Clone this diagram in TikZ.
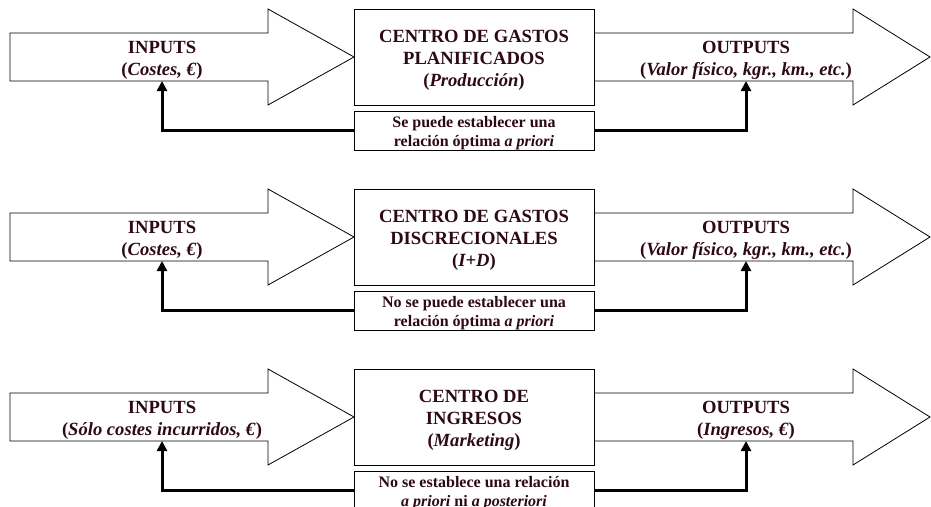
\documentclass[tikz,border=0pt]{standalone}
\usepackage{fontspec}
\setmainfont{Liberation Serif}
\usetikzlibrary{arrows.meta}
\definecolor{tinta}{RGB}{45,8,24}

\tikzset{
  flecha/.style={draw, line width=0.8pt, fill=white},
  caja/.style={draw, line width=1pt, fill=white, minimum width=240pt, inner sep=0pt},
  rotulo/.style={inner sep=0pt, align=center, text=tinta, font=\fontsize{18.6}{22.3}\selectfont\bfseries},
  nota/.style={inner sep=0pt, align=center, text=tinta, font=\fontsize{16}{19.2}\selectfont\bfseries},
  retorno/.style={line width=3pt, -{Triangle[width=10pt,length=10pt]}}
}

\begin{document}
\begin{tikzpicture}[x=1pt, y=-1pt]
\useasboundingbox (0,0) rectangle (931,506);
\clip (0,0) rectangle (931,506);

% fila 1
\draw[flecha] (10,33) -- (268,33) -- (268,9) -- (354,57) -- (268,105) -- (268,81) -- (10,81) -- cycle;
\draw[flecha] (594,33) -- (853,33) -- (853,9) -- (930,57) -- (853,105) -- (853,81) -- (594,81);
\node[caja, minimum height=96pt] (centro1) at (474,57) {};
\node[caja, minimum height=39pt] (relacion1) at (474,130.5) {};
\node[rotulo] (textoC1) at (474,60.5) {CENTRO DE GASTOS\\PLANIFICADOS\\(\textit{Producción})};
\node[nota] (textoR1) at (474,133) {Se puede establecer una\\relación óptima \textit{a priori}};
\node[rotulo] (entrada1) at (162,60) {INPUTS\\(\textit{Costes, €})};
\node[rotulo] (salida1) at (746,60) {OUTPUTS\\(\textit{Valor físico, kgr., km., etc.})};
\coordinate (pieE1) at (162,81);
\coordinate (pieS1) at (746,81);
\draw[retorno] (relacion1.west) -| (pieE1);
\draw[retorno] (relacion1.east) -| (pieS1);

% fila 2
\draw[flecha] (10,213) -- (268,213) -- (268,189) -- (354,237) -- (268,285) -- (268,261) -- (10,261) -- cycle;
\draw[flecha] (594,213) -- (853,213) -- (853,189) -- (930,237) -- (853,285) -- (853,261) -- (594,261);
\node[caja, minimum height=96pt] (centro2) at (474,237) {};
\node[caja, minimum height=39pt] (relacion2) at (474,310.5) {};
\node[rotulo] (textoC2) at (474,240.5) {CENTRO DE GASTOS\\DISCRECIONALES\\(\textit{I+D})};
\node[nota] (textoR2) at (474,313) {No se puede establecer una\\relación óptima \textit{a priori}};
\node[rotulo] (entrada2) at (162,240) {INPUTS\\(\textit{Costes, €})};
\node[rotulo] (salida2) at (746,240) {OUTPUTS\\(\textit{Valor físico, kgr., km., etc.})};
\coordinate (pieE2) at (162,261);
\coordinate (pieS2) at (746,261);
\draw[retorno] (relacion2.west) -| (pieE2);
\draw[retorno] (relacion2.east) -| (pieS2);

% fila 3
\draw[flecha] (10,393) -- (268,393) -- (268,369) -- (354,417) -- (268,465) -- (268,441) -- (10,441) -- cycle;
\draw[flecha] (594,393) -- (853,393) -- (853,369) -- (930,417) -- (853,465) -- (853,441) -- (594,441);
\node[caja, minimum height=96pt] (centro3) at (474,417) {};
\node[caja, minimum height=39pt] (relacion3) at (474,490.5) {};
\node[rotulo] (textoC3) at (474,420.5) {CENTRO DE\\INGRESOS\\(\textit{Marketing})};
\node[nota] (textoR3) at (474,493) {No se establece una relación\\\textit{a priori} ni \textit{a posteriori}};
\node[rotulo] (entrada3) at (162,420) {INPUTS\\(\textit{Sólo costes incurridos, €})};
\node[rotulo] (salida3) at (746,420) {OUTPUTS\\(\textit{Ingresos, €})};
\coordinate (pieE3) at (162,441);
\coordinate (pieS3) at (746,441);
\draw[retorno] (relacion3.west) -| (pieE3);
\draw[retorno] (relacion3.east) -| (pieS3);
\end{tikzpicture}
\end{document}
